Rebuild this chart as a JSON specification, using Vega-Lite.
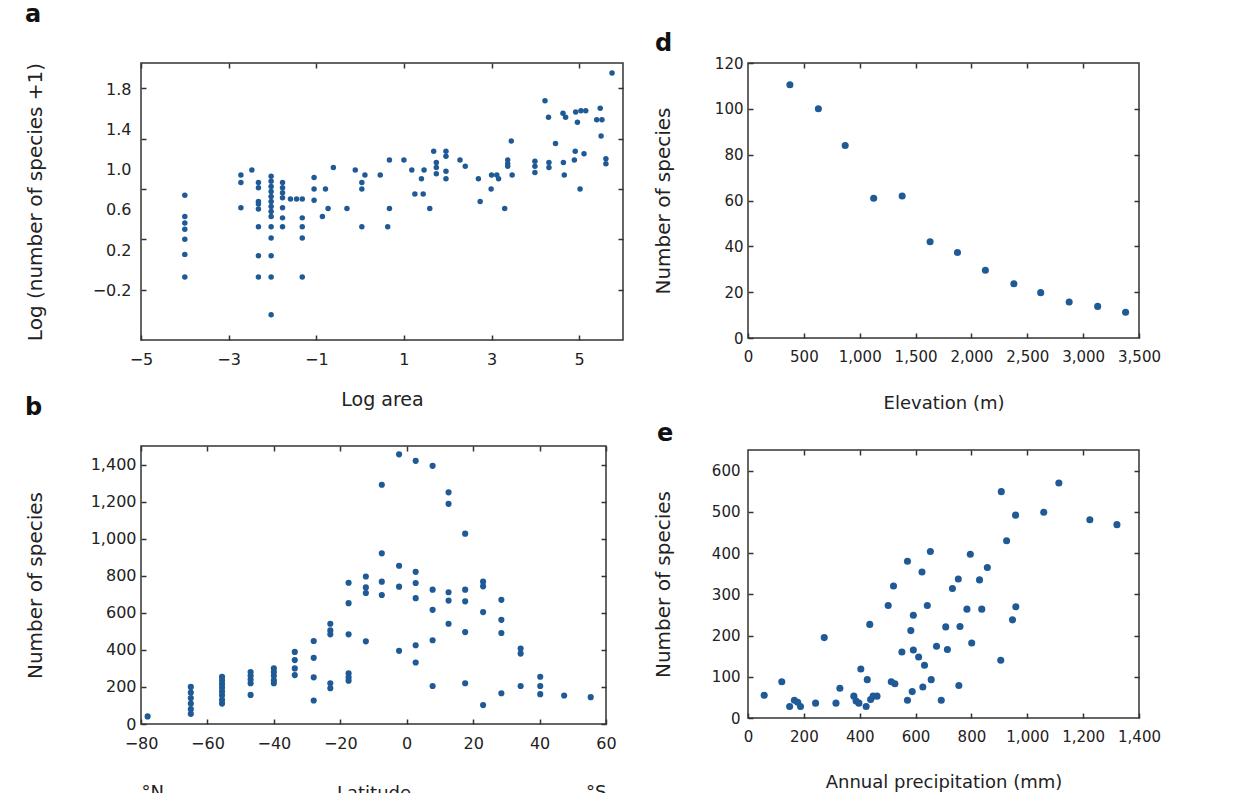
{
  "$schema": "https://vega.github.io/schema/vega-lite/v6.json",
  "autosize": {"type": "none"},
  "padding": {"left": 141, "top": 63, "right": 1116, "bottom": 730},
  "background": "white",
  "bounds": "flush",
  "spacing": 607,
  "config": {
    "font": "DejaVu Sans",
    "view": {"stroke": "#333333", "strokeWidth": 1.5},
    "axis": {"domain": false, "grid": false, "tickColor": "#333333", "tickSize": -5, "tickWidth": 1.5, "labelColor": "#222222", "titleColor": "#222222", "titleFontWeight": "normal", "labelFontSize": 15, "titleFontSize": 18, "labelPadding": 10, "labelOverlap": false, "labelFlush": false},
    "axisX": {"labelPadding": 16},
    "title": {"fontSize": 24, "fontWeight": "bold", "color": "#111111", "anchor": "start", "frame": "group"}
  },
  "datasets": {
    "a": [
      {"x": -4.0, "y": 0.95}, {"x": -4.0, "y": 0.78}, {"x": -4.0, "y": 0.73}, {"x": -4.0, "y": 0.68}, {"x": -4.0, "y": 0.60}, {"x": -4.0, "y": 0.48}, {"x": -4.0, "y": 0.30},
      {"x": -2.72, "y": 1.11}, {"x": -2.72, "y": 1.05}, {"x": -2.72, "y": 0.85}, {"x": -2.47, "y": 1.15},
      {"x": -2.32, "y": 1.05}, {"x": -2.32, "y": 1.01}, {"x": -2.32, "y": 0.90}, {"x": -2.32, "y": 0.88}, {"x": -2.32, "y": 0.84}, {"x": -2.32, "y": 0.70}, {"x": -2.32, "y": 0.47}, {"x": -2.32, "y": 0.30},
      {"x": -2.03, "y": 1.10}, {"x": -2.03, "y": 1.06}, {"x": -2.03, "y": 1.02}, {"x": -2.03, "y": 0.98}, {"x": -2.03, "y": 0.94}, {"x": -2.03, "y": 0.90}, {"x": -2.03, "y": 0.86}, {"x": -2.03, "y": 0.82}, {"x": -2.03, "y": 0.78}, {"x": -2.03, "y": 0.70}, {"x": -2.03, "y": 0.61}, {"x": -2.03, "y": 0.47}, {"x": -2.03, "y": 0.30}, {"x": -2.03, "y": 0.0},
      {"x": -1.77, "y": 1.05}, {"x": -1.77, "y": 1.01}, {"x": -1.77, "y": 0.97}, {"x": -1.77, "y": 0.93}, {"x": -1.77, "y": 0.85}, {"x": -1.77, "y": 0.77}, {"x": -1.77, "y": 0.70},
      {"x": -1.59, "y": 0.92}, {"x": -1.45, "y": 0.92}, {"x": -1.32, "y": 0.92},
      {"x": -1.32, "y": 0.77}, {"x": -1.32, "y": 0.70}, {"x": -1.32, "y": 0.61}, {"x": -1.32, "y": 0.30},
      {"x": -1.05, "y": 1.09}, {"x": -1.05, "y": 1.0}, {"x": -1.05, "y": 0.91}, {"x": -0.79, "y": 1.0}, {"x": -0.61, "y": 1.17}, {"x": -0.73, "y": 0.845}, {"x": -0.86, "y": 0.78}, {"x": -0.30, "y": 0.845},
      {"x": -0.11, "y": 1.15}, {"x": 0.11, "y": 1.11}, {"x": 0.04, "y": 1.05}, {"x": 0.04, "y": 1.0}, {"x": 0.04, "y": 0.70},
      {"x": 0.46, "y": 1.11}, {"x": 0.67, "y": 1.23}, {"x": 1.0, "y": 1.23}, {"x": 0.67, "y": 0.845}, {"x": 0.63, "y": 0.70},
      {"x": 1.18, "y": 1.15}, {"x": 1.46, "y": 1.15}, {"x": 1.40, "y": 1.08}, {"x": 1.25, "y": 0.96}, {"x": 1.44, "y": 0.96}, {"x": 1.59, "y": 0.845},
      {"x": 1.68, "y": 1.30}, {"x": 1.96, "y": 1.30}, {"x": 1.96, "y": 1.26}, {"x": 1.74, "y": 1.21}, {"x": 1.74, "y": 1.17}, {"x": 1.74, "y": 1.12}, {"x": 1.96, "y": 1.14}, {"x": 1.96, "y": 1.08},
      {"x": 2.28, "y": 1.23}, {"x": 2.40, "y": 1.18}, {"x": 2.70, "y": 1.08}, {"x": 2.74, "y": 0.90}, {"x": 2.99, "y": 1.0}, {"x": 3.0, "y": 1.11}, {"x": 3.12, "y": 1.11}, {"x": 3.16, "y": 1.08}, {"x": 3.30, "y": 0.845},
      {"x": 3.37, "y": 1.23}, {"x": 3.37, "y": 1.20}, {"x": 3.37, "y": 1.18}, {"x": 3.47, "y": 1.11}, {"x": 3.45, "y": 1.38},
      {"x": 3.99, "y": 1.22}, {"x": 3.99, "y": 1.18}, {"x": 3.99, "y": 1.13}, {"x": 4.31, "y": 1.21}, {"x": 4.31, "y": 1.17},
      {"x": 4.22, "y": 1.70}, {"x": 4.30, "y": 1.57}, {"x": 4.46, "y": 1.36}, {"x": 4.63, "y": 1.60}, {"x": 4.69, "y": 1.57}, {"x": 4.64, "y": 1.21}, {"x": 4.66, "y": 1.11},
      {"x": 4.89, "y": 1.23}, {"x": 4.91, "y": 1.30}, {"x": 5.11, "y": 1.28}, {"x": 4.92, "y": 1.61}, {"x": 5.04, "y": 1.62}, {"x": 5.15, "y": 1.62}, {"x": 4.96, "y": 1.53}, {"x": 5.02, "y": 1.0},
      {"x": 5.48, "y": 1.64}, {"x": 5.40, "y": 1.55}, {"x": 5.52, "y": 1.55}, {"x": 5.50, "y": 1.42}, {"x": 5.61, "y": 1.24}, {"x": 5.61, "y": 1.20}, {"x": 5.75, "y": 1.92}
    ],
    "b": [
      {"x": -78, "y": 41},
      {"x": -65, "y": 200}, {"x": -65, "y": 170}, {"x": -65, "y": 140}, {"x": -65, "y": 110}, {"x": -65, "y": 80}, {"x": -65, "y": 55},
      {"x": -55.6, "y": 255}, {"x": -55.6, "y": 235}, {"x": -55.6, "y": 215}, {"x": -55.6, "y": 195}, {"x": -55.6, "y": 175}, {"x": -55.6, "y": 155}, {"x": -55.6, "y": 130}, {"x": -55.6, "y": 110},
      {"x": -47, "y": 280}, {"x": -47, "y": 260}, {"x": -47, "y": 240}, {"x": -47, "y": 220}, {"x": -47, "y": 157},
      {"x": -40, "y": 300}, {"x": -40, "y": 280}, {"x": -40, "y": 260}, {"x": -40, "y": 235}, {"x": -40, "y": 220},
      {"x": -33.7, "y": 389}, {"x": -33.7, "y": 345}, {"x": -33.7, "y": 300}, {"x": -33.7, "y": 264},
      {"x": -28, "y": 448}, {"x": -28, "y": 357}, {"x": -28, "y": 252}, {"x": -28, "y": 127},
      {"x": -23, "y": 541}, {"x": -23, "y": 505}, {"x": -23, "y": 484}, {"x": -23, "y": 220}, {"x": -23, "y": 193},
      {"x": -17.5, "y": 762}, {"x": -17.5, "y": 652}, {"x": -17.5, "y": 484}, {"x": -17.5, "y": 273}, {"x": -17.5, "y": 252}, {"x": -17.5, "y": 234},
      {"x": -12.3, "y": 796}, {"x": -12.3, "y": 737}, {"x": -12.3, "y": 707}, {"x": -12.3, "y": 446},
      {"x": -7.5, "y": 1291}, {"x": -7.5, "y": 921}, {"x": -7.5, "y": 768}, {"x": -7.5, "y": 696},
      {"x": -2.3, "y": 1455}, {"x": -2.3, "y": 854}, {"x": -2.3, "y": 741}, {"x": -2.3, "y": 395},
      {"x": 2.7, "y": 1420}, {"x": 2.7, "y": 821}, {"x": 2.7, "y": 761}, {"x": 2.7, "y": 679}, {"x": 2.7, "y": 425}, {"x": 2.7, "y": 332},
      {"x": 7.8, "y": 1393}, {"x": 7.8, "y": 725}, {"x": 7.8, "y": 616}, {"x": 7.8, "y": 452}, {"x": 7.8, "y": 205},
      {"x": 12.6, "y": 1250}, {"x": 12.6, "y": 1188}, {"x": 12.6, "y": 711}, {"x": 12.6, "y": 666}, {"x": 12.6, "y": 541},
      {"x": 17.6, "y": 1027}, {"x": 17.6, "y": 725}, {"x": 17.6, "y": 662}, {"x": 17.6, "y": 496}, {"x": 17.6, "y": 220},
      {"x": 23, "y": 768}, {"x": 23, "y": 743}, {"x": 23, "y": 604}, {"x": 23, "y": 102},
      {"x": 28.5, "y": 670}, {"x": 28.5, "y": 562}, {"x": 28.5, "y": 491}, {"x": 28.5, "y": 166},
      {"x": 34.3, "y": 407}, {"x": 34.3, "y": 380}, {"x": 34.3, "y": 205},
      {"x": 40.2, "y": 255}, {"x": 40.2, "y": 205}, {"x": 40.2, "y": 161},
      {"x": 47.4, "y": 154}, {"x": 55.4, "y": 145}
    ],
    "d": [
      {"x": 375, "y": 110.5}, {"x": 630, "y": 100}, {"x": 870, "y": 84}, {"x": 1125, "y": 61}, {"x": 1380, "y": 62},
      {"x": 1630, "y": 42}, {"x": 1875, "y": 37.3}, {"x": 2125, "y": 29.6}, {"x": 2380, "y": 23.7}, {"x": 2620, "y": 19.8},
      {"x": 2875, "y": 15.7}, {"x": 3130, "y": 13.8}, {"x": 3380, "y": 11.2}
    ],
    "e": [
      {"x": 58, "y": 55}, {"x": 121, "y": 88}, {"x": 149, "y": 28}, {"x": 166, "y": 43}, {"x": 178, "y": 38}, {"x": 188, "y": 28},
      {"x": 242, "y": 36}, {"x": 273, "y": 195}, {"x": 315, "y": 36}, {"x": 329, "y": 72}, {"x": 379, "y": 53}, {"x": 387, "y": 41},
      {"x": 404, "y": 119}, {"x": 397, "y": 36}, {"x": 423, "y": 28}, {"x": 427, "y": 93}, {"x": 436, "y": 227}, {"x": 439, "y": 45},
      {"x": 448, "y": 53}, {"x": 462, "y": 53}, {"x": 502, "y": 273}, {"x": 513, "y": 88}, {"x": 521, "y": 320}, {"x": 526, "y": 83},
      {"x": 551, "y": 160}, {"x": 571, "y": 380}, {"x": 571, "y": 43}, {"x": 583, "y": 212}, {"x": 588, "y": 64}, {"x": 592, "y": 249},
      {"x": 592, "y": 165}, {"x": 611, "y": 148}, {"x": 623, "y": 354}, {"x": 626, "y": 75}, {"x": 632, "y": 128}, {"x": 642, "y": 273},
      {"x": 653, "y": 404}, {"x": 656, "y": 93}, {"x": 675, "y": 174}, {"x": 692, "y": 43}, {"x": 708, "y": 221}, {"x": 714, "y": 166},
      {"x": 732, "y": 314}, {"x": 753, "y": 337}, {"x": 759, "y": 222}, {"x": 755, "y": 79}, {"x": 784, "y": 264}, {"x": 796, "y": 397},
      {"x": 801, "y": 182}, {"x": 829, "y": 335}, {"x": 837, "y": 264}, {"x": 857, "y": 365}, {"x": 907, "y": 549}, {"x": 905, "y": 140},
      {"x": 926, "y": 430}, {"x": 947, "y": 238}, {"x": 958, "y": 492}, {"x": 959, "y": 270}, {"x": 1059, "y": 499}, {"x": 1113, "y": 570},
      {"x": 1224, "y": 481}, {"x": 1321, "y": 469}
    ]
  },
  "hconcat": [
    {
      "vconcat": [
        {
          "width": 482, "height": 277,
          "title": {"text": "a", "dx": -116, "offset": 35},
          "data": {"name": "a"},
          "layer": [
            {
              "mark": {"type": "point", "filled": true, "size": 30, "color": "#1f5a96", "opacity": 1},
              "encoding": {
                "x": {"field": "x", "type": "quantitative", "scale": {"domain": [-5, 6], "nice": false, "zero": false},
                  "axis": {"values": [-5, -3, -1, 1, 3, 5], "title": "Log area", "titleBaseline": "top", "titleY": 50, "labelFontSize": 16, "titleFontSize": 19}},
                "y": {"field": "y", "type": "quantitative", "scale": {"domain": [-0.2, 2.0], "nice": false, "zero": false},
                  "axis": {"values": [0.2, 0.6, 1.0, 1.4, 1.8], "labels": false, "title": null}}
              }
            },
            {
              "mark": {"type": "point", "filled": true, "opacity": 0},
              "encoding": {
                "x": {"field": "x", "type": "quantitative", "axis": {"orient": "top", "values": [-5, -3, -1, 1, 3, 5], "labels": false, "title": null}},
                "y": {"field": "y", "type": "quantitative", "scale": {"domain": [-0.2, 2.0], "nice": false, "zero": false},
                  "axis": {"orient": "right", "values": [0.2, 0.6, 1.0, 1.4, 1.8], "labels": false, "title": null}}
              }
            },
            {
              "mark": {"type": "point", "filled": true, "opacity": 0},
              "encoding": {
                "x": {"field": "x", "type": "quantitative", "axis": null},
                "y": {"field": "y", "type": "quantitative", "scale": {"domain": [-0.695, 2.062], "nice": false, "zero": false},
                  "axis": {"orient": "left", "values": [1.8, 1.4, 1.0, 0.6, 0.2, -0.2], "format": ".1f", "ticks": false, "labelFontSize": 16,
                    "title": "Log (number of species +1)", "titleX": -106, "titleBaseline": "middle", "titleFontSize": 20}}
              }
            }
          ],
          "resolve": {"scale": {"y": "independent"}, "axis": {"x": "independent", "y": "independent"}}
        },
        {
          "width": 465, "height": 278,
          "title": {"text": "b", "dx": -116, "offset": 25},
          "data": {"name": "b"},
          "layer": [
            {
              "mark": {"type": "point", "filled": true, "size": 38, "color": "#1f5a96", "opacity": 1},
              "encoding": {
                "x": {"field": "x", "type": "quantitative", "scale": {"domain": [-80, 60], "nice": false, "zero": false},
                  "axis": {"values": [-80, -60, -40, -20, 0, 20, 40, 60], "title": "Latitude", "titleBaseline": "top", "titleY": 60, "labelFontSize": 16}},
                "y": {"field": "y", "type": "quantitative", "scale": {"domain": [0, 1500], "nice": false},
                  "axis": {"values": [0, 200, 400, 600, 800, 1000, 1200, 1400], "format": ",d", "labelFontSize": 16,
                    "title": "Number of species", "titleX": -106, "titleBaseline": "middle", "titleFontSize": 20}}
              }
            },
            {
              "mark": {"type": "point", "filled": true, "opacity": 0},
              "encoding": {
                "x": {"field": "x", "type": "quantitative", "axis": {"orient": "top", "values": [-80, -60, -40, -20, 0, 20, 40, 60], "labels": false, "title": null}},
                "y": {"field": "y", "type": "quantitative", "axis": {"orient": "right", "values": [0, 200, 400, 600, 800, 1000, 1200, 1400], "labels": false, "title": null}}
              }
            },
            {
              "mark": {"type": "point", "filled": true, "opacity": 0},
              "encoding": {
                "x": {"field": "x", "type": "quantitative",
                  "axis": {"orient": "bottom", "values": [-80, 60], "labelExpr": "datum.value < 0 ? '°N' : '°S'", "labelFlush": true, "ticks": false, "labelPadding": 59, "labelFontSize": 18, "title": null}},
                "y": {"field": "y", "type": "quantitative", "axis": null}
              }
            }
          ],
          "resolve": {"axis": {"x": "independent", "y": "independent"}}
        }
      ],
      "spacing": 106,
      "bounds": "flush"
    },
    {
      "vconcat": [
        {
          "width": 391, "height": 275,
          "title": {"text": "d", "dx": -93, "offset": 0},
          "data": {"name": "d"},
          "layer": [
            {
              "mark": {"type": "point", "filled": true, "size": 50, "color": "#1f5a96", "opacity": 1},
              "encoding": {
                "x": {"field": "x", "type": "quantitative", "scale": {"domain": [0, 3500], "nice": false},
                  "axis": {"values": [0, 500, 1000, 1500, 2000, 2500, 3000, 3500], "format": ",d", "title": "Elevation (m)", "titleBaseline": "top", "titleY": 56}},
                "y": {"field": "y", "type": "quantitative", "scale": {"domain": [0, 120], "nice": false},
                  "axis": {"values": [0, 20, 40, 60, 80, 100, 120], "title": "Number of species", "titleX": -85, "titleBaseline": "middle", "titleFontSize": 20}}
              }
            },
            {
              "mark": {"type": "point", "filled": true, "opacity": 0},
              "encoding": {
                "x": {"field": "x", "type": "quantitative", "axis": {"orient": "top", "values": [500, 1000, 1500, 2000, 2500, 3000], "labels": false, "title": null}},
                "y": {"field": "y", "type": "quantitative", "axis": {"orient": "right", "values": [20, 40, 60, 80, 100], "labels": false, "title": null}}
              }
            }
          ],
          "resolve": {"axis": {"x": "independent", "y": "independent"}}
        },
        {
          "width": 391, "height": 268,
          "title": {"text": "e", "dx": -91, "offset": 3},
          "data": {"name": "e"},
          "layer": [
            {
              "mark": {"type": "point", "filled": true, "size": 50, "color": "#1f5a96", "opacity": 1},
              "encoding": {
                "x": {"field": "x", "type": "quantitative", "scale": {"domain": [0, 1400], "nice": false},
                  "axis": {"values": [0, 200, 400, 600, 800, 1000, 1200, 1400], "format": ",d", "title": "Annual precipitation (mm)", "titleBaseline": "top", "titleY": 55}},
                "y": {"field": "y", "type": "quantitative", "scale": {"domain": [0, 650], "nice": false},
                  "axis": {"values": [0, 100, 200, 300, 400, 500, 600], "title": "Number of species", "titleX": -85, "titleBaseline": "middle", "titleFontSize": 20, "labelPadding": 13}}
              }
            },
            {
              "mark": {"type": "point", "filled": true, "opacity": 0},
              "encoding": {
                "x": {"field": "x", "type": "quantitative", "axis": {"orient": "top", "values": [200, 400, 600, 800, 1000, 1200], "labels": false, "title": null}},
                "y": {"field": "y", "type": "quantitative", "axis": {"orient": "right", "values": [100, 200, 300, 400, 500, 600], "labels": false, "title": null}}
              }
            }
          ],
          "resolve": {"axis": {"x": "independent", "y": "independent"}}
        }
      ],
      "spacing": 112,
      "bounds": "flush"
    }
  ]
}
